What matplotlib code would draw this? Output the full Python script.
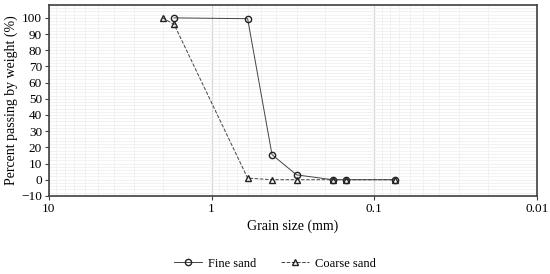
import numpy as np
import matplotlib.pyplot as plt
from matplotlib.ticker import FixedLocator, MultipleLocator, NullFormatter

plt.rcParams['font.family'] = ['Liberation Serif', 'DejaVu Serif']

# sieve sizes (mm) and percent passing
fine_size = [1.7, 0.6, 0.425, 0.3, 0.18, 0.15, 0.075]
fine_pass = [100, 99.5, 15.5, 3, 0, 0, 0]
coarse_size = [2.0, 1.7, 0.6, 0.425, 0.3, 0.18, 0.15, 0.075]
coarse_pass = [100, 96, 1, 0, 0, 0, 0, 0]

x_ticks = [10, 1, 0.1, 0.01]
x_labels = ['10', '1', '0.1', '0.01']

fig = plt.figure(figsize=(5.5, 2.74), dpi=100)
ax = fig.add_axes([0.089, 0.285, 0.887, 0.697])

ax.plot(fine_size, fine_pass, color='#444444', lw=0.7, ls='-',
        marker='o', ms=4.5, mfc='none', mec='#222222', mew=1.0, label='Fine sand')
ax.plot(coarse_size, coarse_pass, color='#444444', lw=0.7, ls='--',
        marker='^', ms=4.5, mfc='none', mec='#222222', mew=1.0, label='Coarse sand')

ax.set_xscale('log')
ax.set_xlim(10, 0.01)
ax.set_ylim(-10, 108)
ax.xaxis.set_major_locator(FixedLocator(x_ticks))
ax.set_xticks(x_ticks)
ax.set_xticklabels(x_labels)
minors = [m * 10.0**e for e in range(-2, 1) for m in range(2, 10)]
ax.xaxis.set_minor_locator(FixedLocator(minors))
ax.xaxis.set_minor_formatter(NullFormatter())
ax.yaxis.set_major_locator(FixedLocator(np.arange(-10, 101, 10)))
ax.yaxis.set_minor_locator(MultipleLocator(2))

ax.grid(True, which='major', axis='x', color='#d4d4d4', lw=0.9)
ax.grid(True, which='minor', axis='x', color='#f0f0f0', lw=0.6)
ax.grid(True, which='both', axis='y', color='#f0f0f0', lw=0.6)
ax.set_axisbelow(True)

for s in ax.spines.values():
    s.set_color('#404040')
    s.set_linewidth(1.2)
ax.tick_params(axis='both', which='major', labelsize=9.5, direction='out', length=3,
               color='#404040', pad=2)
ax.tick_params(axis='both', which='minor', length=0)

ax.set_xlabel('Grain size (mm)', fontsize=10, labelpad=3)
ax.set_ylabel('Percent passing by weight (%)', fontsize=10, labelpad=2)

fig.legend(loc='lower center', bbox_to_anchor=(0.5, -0.025), ncol=2, frameon=False,
           fontsize=9, handlelength=2.2, columnspacing=2.0, handletextpad=0.5)

fig.savefig('out.png', dpi=100)
